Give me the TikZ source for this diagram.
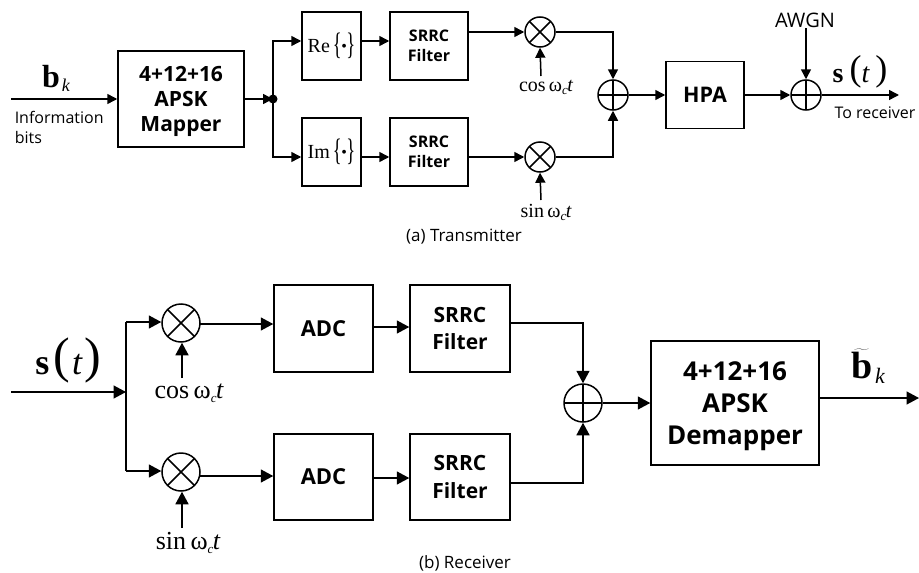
\documentclass[tikz,border=0pt]{standalone}
\usepackage{fontspec}
\setmainfont{Open Sans}
\newfontfamily\ser{Liberation Serif}
\usetikzlibrary{arrows.meta}
\newcommand{\fs}[1]{\fontsize{#1}{#1}\selectfont}
\newcommand{\carrier}[3]{{\ser\fs{#2}#1\,ω\raisebox{-#3pt}{\fs{13}\itshape c}\kern-0.5pt\itshape t}}
\newcommand{\bracepair}[1]{{\ser\mdseries\fs{20}#1\kern3pt\raisebox{-2pt}{\scalebox{0.6}[1]{\fs{31}\{}}\kern-0.5pt\raisebox{1pt}{\fs{16}•}\kern-0.5pt\raisebox{-2pt}{\scalebox{0.6}[1]{\fs{31}\}}}}}
\begin{document}
\begin{tikzpicture}[x=1pt,y=-1pt,
  line width=1.5pt,
  block/.style={draw,inner sep=0pt,align=center,font=\bfseries\fontsize{16}{20.5}\selectfont},
  arr/.style={-{Triangle[length=10pt,width=10pt]}},
  arrb/.style={-{Triangle[length=12.5pt,width=13pt]}},
  opsym/.style={circle,draw,inner sep=0pt,minimum size=#1},
  mix/.style={opsym=#1,path picture={
    \draw (path picture bounding box.north west)--(path picture bounding box.south east)
          (path picture bounding box.north east)--(path picture bounding box.south west);}},
  add/.style={opsym=#1,path picture={
    \draw (path picture bounding box.north)--(path picture bounding box.south)
          (path picture bounding box.east)--(path picture bounding box.west);}},
  lab/.style={inner sep=0pt,align=center}
]
\useasboundingbox (0,0) rectangle (919,573);
% --- transmitter ---
\node[block,minimum width=126pt,minimum height=96pt,font=\bfseries\fontsize{21}{25}\selectfont] (mapper) at (181,99) {\rule{0pt}{21pt}4+12+16\\APSK\\Mapper};
\node[block,minimum width=59pt,minimum height=68pt] (re) at (331.5,46) {\bracepair{Re}};
\node[block,minimum width=59pt,minimum height=68pt] (im) at (331.5,152) {\bracepair{Im}};
\node[block,minimum width=78pt,minimum height=68pt] (f1) at (429,46) {SRRC\\Filter};
\node[block,minimum width=78pt,minimum height=68pt] (f2) at (429,152) {SRRC\\Filter};
\node[mix=30pt] (m1) at (540,32) {};
\node[mix=30pt] (m2) at (540,157) {};
\node[add=30pt] (a1) at (613,95) {};
\node[block,minimum width=78pt,minimum height=67pt,font=\bfseries\fs{21.5}] (hpa) at (705,95) {HPA};
\node[add=30pt] (a2) at (806,95) {};
\coordinate (in1) at (11,99);
\coordinate (j) at (273,99);
\coordinate (out1) at (899,95);
\coordinate (rein) at (273,41);
\coordinate (imin) at (273,157);
\node[lab,font=\fs{20}] (awgn) at (805,20) {AWGN};
\node[lab] (cos1) at (546,87) {\carrier{cos}{20}{3}};
\node[lab] (sin1) at (546,212) {\carrier{sin}{20}{3}};
\coordinate (cos1t) at (541,76);
\coordinate (sin1t) at (541,200);
\node[lab] (bk1) at (56,78) {\ser\fs{32}\bfseries b\raisebox{-4pt}{\fs{18}\mdseries\itshape\kern2pt k}};
\node[lab,align=left,anchor=west,font=\fontsize{16}{20}\selectfont] (info) at (14,127) {Information\\bits};
\node[lab] (st1) at (860,72) {\ser\fs{28}\bfseries s\raisebox{2pt}{\fs{36}\mdseries\,(}\mdseries\itshape t\raisebox{2pt}{\fs{36}\upshape\,)}};
\node[lab,font=\fs{16}] (torx) at (875,113) {To receiver};
\node[lab,font=\fs{17}] (cap1) at (464,237) {(a) Transmitter};

\fill (j) circle (4.5pt);
\draw[arr] (in1) -- (mapper.west);
\draw[arr] (mapper.east) -- (j);
\draw[arr] (j) -- (rein) -- (re.west |- rein);
\draw[arr] (j) -- (imin) -- (im.west |- imin);
\draw[arr] (re.east |- rein) -- (f1.west |- rein);
\draw[arr] (im.east |- imin) -- (f2.west |- imin);
\draw[arr] (f1.east |- m1) -- (m1.west);
\draw[arr] (f2.east |- m2) -- (m2.west);
\draw[arr] (cos1t) -- (m1.south);
\draw[arr] (sin1t) -- (m2.south);
\draw[arr] (m1.east) -| (a1.north);
\draw[arr] (m2.east) -| (a1.south);
\draw[arr] (a1.east) -- (hpa.west);
\draw[arr] (hpa.east) -- (a2.west);
\draw[arr] (awgn.south -| a2) -- (a2.north);
\draw[arr] (a2.east) -- (out1);

% --- receiver ---
\node[mix=38pt] (m3) at (181,323) {};
\node[mix=38pt] (m4) at (181,472) {};
\node[block,minimum width=99pt,minimum height=87pt,font=\bfseries\fs{22}] (adc1) at (323.5,328.5) {ADC};
\node[block,minimum width=99pt,minimum height=86pt,font=\bfseries\fs{22}] (adc2) at (323.5,477) {ADC};
\node[block,minimum width=100pt,minimum height=87pt,font=\bfseries\fontsize{21}{27.5}\selectfont] (f3) at (460,328.5) {SRRC\\Filter};
\node[block,minimum width=100pt,minimum height=86pt,font=\bfseries\fontsize{21}{27.5}\selectfont] (f4) at (460,477) {SRRC\\Filter};
\node[add=38pt] (a3) at (583,403) {};
\node[block,minimum width=168pt,minimum height=124pt,font=\bfseries\fontsize{26}{32}\selectfont] (demap) at (735,403) {\rule{0pt}{26pt}4+12+16\\APSK\\Demapper};
\coordinate (in2) at (11,392);
\coordinate (split) at (126,392);
\coordinate (up) at (126,322);
\coordinate (dn) at (126,471);
\coordinate (out2) at (919,398);
\node[lab] (st2) at (68,360) {\ser\fs{36}\bfseries s\kern4pt\raisebox{2pt}{\fs{50}\mdseries(}\kern2pt\mdseries\itshape t\kern2pt\raisebox{2pt}{\fs{50}\upshape)}};
\node[lab] (cos2) at (189,393) {\carrier{cos}{26}{4}};
\node[lab] (sin2) at (188,543) {\carrier{sin}{26}{4}};
\coordinate (cos2t) at (182,378);
\coordinate (sin2t) at (182,528);
\node[lab] (bk2) at (868,366) {\ser\fs{38}\bfseries $\widetilde{\textbf{b}}$\raisebox{-5pt}{\fs{22}\mdseries\itshape\kern3pt k}};
\node[lab,font=\fs{17}] (cap2) at (465,563) {(b) Receiver};

\draw[arrb] (in2) -- (split);
\draw[arrb] (up) -- (up -| m3.west);
\draw[arrb] (dn) -- (dn -| m4.west);
\draw (up) -- (dn);
\draw[arrb] (cos2t) -- (m3.south -| cos2t);
\draw[arrb] (sin2t) -- (m4.south -| sin2t);
\coordinate (o3) at (200,324);
\coordinate (o4) at (200,476);
\draw[arrb] (o3) -- (adc1.west |- o3);
\draw[arrb] (o4) -- (adc2.west |- o4);
\coordinate (o5) at (373,327);
\coordinate (o6) at (373,478);
\draw[arrb] (o5) -- (f3.west |- o5);
\draw[arrb] (o6) -- (f4.west |- o6);
\coordinate (o7) at (510,323);
\coordinate (o8) at (510,483);
\draw[arrb] (o7) -| (a3.north);
\draw[arrb] (o8) -| (a3.south);
\draw[arrb] (a3.east) -- (demap.west);
\draw[arrb] (demap.east |- out2) -- (out2);
\end{tikzpicture}
\end{document}
